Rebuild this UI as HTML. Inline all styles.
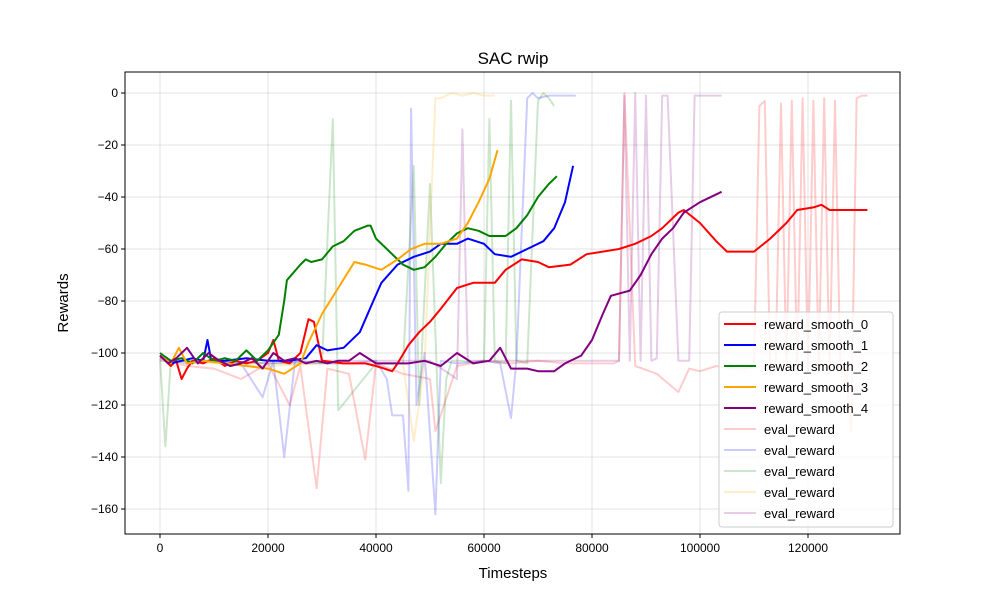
<!DOCTYPE html>
<html><head><meta charset="utf-8"><style>
body{margin:0;background:#fff;font-family:"Liberation Sans",sans-serif}
svg text{font-family:"Liberation Sans",sans-serif}
</style></head><body>
<svg id="chart" width="1000" height="600" xmlns="http://www.w3.org/2000/svg">
<rect x="0" y="0" width="1000" height="600" fill="#fff"/>
<g id="grid"></g>
<g id="evals"></g>
<g id="smooths"></g>
<rect x="125" y="72" width="775" height="462" fill="none" stroke="#000" stroke-width="1"/>
<g id="ticks"></g>
<text x="513" y="64" font-size="17" text-anchor="middle">SAC rwip</text>
<text x="513" y="578" font-size="15" text-anchor="middle">Timesteps</text>
<text x="68" y="303" font-size="15" text-anchor="middle" transform="rotate(-90 68 303)">Rewards</text>
<g id="legend"></g>
</svg>
<script>
const xTicks=[0,20000,40000,60000,80000,100000,120000];
const yTicks=[0,-20,-40,-60,-80,-100,-120,-140,-160];
const s0t=[0,1000,2000,3000,4000,5000,6000,8000,10000,12000,14000,16000,18000,20000,21000,22000,24000,26000,27500,28500,30000,34000,38000,40000,43000,44000,46000,48000,50000,52000,55000,58000,62000,64000,67000,70000,72000,76000,79000,85000,88000,91000,93000,96000,97000,100000,103000,105000,110000,113000,116000,118000,121000,122500,124000,128000,131000];
const s0v=[-101,-103,-105,-103,-110,-106,-103,-104,-102,-105,-103,-104,-103,-100,-95,-103,-104,-100,-87,-88,-103,-104,-104,-105,-107,-104,-97,-92,-88,-83,-75,-73,-73,-68,-64,-65,-67,-66,-62,-60,-58,-55,-52,-46,-45,-50,-57,-61,-61,-56,-50,-45,-44,-43,-45,-45,-45];
const s1t=[0,2000,4000,6000,8000,8800,9500,12000,16000,20000,24000,27000,29000,31000,34000,37000,39500,41000,44000,47000,50000,52000,55000,57000,60000,62000,65000,68000,71000,73000,75000,76500];
const s1v=[-101,-104,-103,-102,-103,-95,-103,-103,-102,-103,-103,-102,-97,-99,-98,-92,-80,-73,-66,-63,-61,-58,-58,-56,-58,-62,-63,-60,-57,-52,-42,-28];
const s2t=[0,2000,4000,6000,8000,10000,12000,14000,16000,18000,20000,22000,23000,23500,26000,27000,28000,30000,32000,34000,36000,38500,39000,40000,42000,45000,47000,49000,51000,53000,55000,57000,59000,61000,64000,66000,68000,70000,72000,73500];
const s2v=[-100,-103,-102,-104,-100,-103,-102,-103,-99,-103,-99,-93,-80,-72,-66,-64,-65,-64,-59,-57,-53,-51,-51,-56,-60,-66,-68,-67,-63,-58,-54,-52,-53,-55,-55,-52,-47,-40,-35,-32];
const s3t=[0,2000,3500,5000,8000,12000,16000,20000,23000,26000,27500,30000,33000,36000,38000,41000,44000,46500,49000,52000,55000,57000,59000,61000,62500];
const s3v=[-101,-104,-98,-104,-103,-104,-105,-106,-108,-104,-96,-85,-75,-65,-66,-68,-64,-60,-58,-58,-56,-50,-42,-33,-22];
const s4t=[0,1500,3000,5000,7000,9000,11000,13000,15000,17000,19000,21000,23000,25000,27000,29000,31000,33000,35000,37000,40000,43000,46000,49000,52000,55000,58000,61000,63000,65000,68000,70000,73000,75000,78000,80000,82000,83500,87000,89000,91000,93000,95000,97000,100000,104000];
const s4v=[-101,-104,-102,-98,-104,-100,-103,-105,-104,-102,-106,-100,-103,-102,-104,-103,-104,-103,-103,-100,-104,-104,-104,-103,-105,-100,-104,-103,-98,-106,-106,-107,-107,-104,-101,-95,-85,-78,-76,-70,-62,-56,-52,-46,-42,-38];
const e0t=[0,5000,10000,15000,20000,24000,26000,29000,31000,35000,38000,40000,45000,50000,51000,55000,60000,65000,70000,75000,80000,84000,85000,86000,88000,92000,96000,98000,100000,103000,106000,109000,110000,111000,112000,113000,114000,115000,116000,117000,118000,119000,120000,121000,122000,123000,124000,125000,126000,127000,128000,129000,130000,131000];
const e0v=[-102,-105,-106,-110,-104,-120,-105,-152,-106,-108,-141,-104,-108,-110,-130,-105,-103,-104,-103,-104,-104,-104,-103,0,-105,-108,-115,-106,-107,-105,-106,-106,-105,-5,-3,-108,-104,-4,-106,-3,-108,-2,-107,-3,-106,-2,-108,-3,-107,-106,-130,-2,-1,-1];
const e1t=[0,5000,10000,15000,19000,21000,23000,25000,30000,35000,40000,42000,43000,45000,46000,46500,47500,49000,51000,52000,55000,60000,63000,65000,66000,68000,69000,70000,72000,74000,77000];
const e1v=[-102,-104,-103,-104,-117,-103,-140,-103,-104,-104,-103,-110,-124,-124,-153,-6,-120,-100,-162,-103,-104,-103,-104,-125,-103,-2,0,-2,-1,-1,-1];
const e2t=[0,1000,2000,10000,20000,30000,32000,33000,40000,45000,47000,48000,50000,52000,53000,54000,56000,58000,60000,61000,62000,64000,65000,66000,68000,70000,71000,72000,73000];
const e2v=[-102,-136,-103,-103,-104,-104,-10,-122,-104,-104,-28,-120,-35,-150,-110,-103,-103,-104,-103,-10,-103,-104,-3,-103,-104,-3,0,-2,-5];
const e3t=[0,10000,20000,30000,40000,45000,47000,49000,51000,52000,54000,56000,58000,60000,62000];
const e3v=[-103,-104,-105,-104,-104,-104,-134,-104,-2,-2,0,-1,0,-1,-1];
const e4t=[0,10000,20000,30000,40000,50000,55000,56000,57000,60000,70000,80000,85000,86000,87000,88000,89000,90000,91000,92000,93000,94000,96000,97000,98000,99000,100000,101000,104000];
const e4v=[-103,-103,-104,-103,-103,-103,-110,-14,-103,-103,-103,-103,-103,-1,-103,0,-103,-1,-103,-102,-1,-1,-103,-103,-103,-1,-1,-1,-1];

const L=125,R=900,T=72,B=534;
const xs=t=>160+t*0.0054;
const ys=v=>93-v*2.6;
const NS="http://www.w3.org/2000/svg";
function mk(tag,attrs,parent){const e=document.createElementNS(NS,tag);for(const k in attrs)e.setAttribute(k,attrs[k]);parent.appendChild(e);return e;}
const grid=document.getElementById('grid'),ticks=document.getElementById('ticks');
xTicks.forEach(t=>{
  const g=mk('line',{x1:xs(t),x2:xs(t),y1:T,y2:B,stroke:'#b0b0b0','stroke-opacity':0.35,'stroke-width':1},grid);
  
  
  const tk=mk('line',{x1:xs(t),x2:xs(t),y1:B,y2:B+4,stroke:'#000'},ticks);
  
  
  const tx=mk('text',{x:xs(t),y:B+18,'font-size':12,'text-anchor':'middle'},ticks);tx.textContent=t;
  
  
});
yTicks.forEach(v=>{
  const g=mk('line',{x1:L,x2:R,y1:ys(v),y2:ys(v),stroke:'#b0b0b0','stroke-opacity':0.35,'stroke-width':1},grid);
  
  
  const tk=mk('line',{x1:L-4,x2:L,y1:ys(v),y2:ys(v),stroke:'#000'},ticks);
  
  
  const tx=mk('text',{x:L-7,y:ys(v)+4,'font-size':12,'text-anchor':'end'},ticks);tx.textContent=(v<0?'\u2212'+(-v):v);
  
  
});
function line(ts,vs,color,op,w,parent,name){
  const d=ts.map((t,i)=>(i?'L':'M')+xs(t).toFixed(1)+','+ys(vs[i]).toFixed(1)).join('');
  const p=mk('path',{d:d,fill:'none',stroke:color,'stroke-opacity':op,'stroke-width':w,'stroke-linejoin':'round'},parent);
  
  
}
const ev=document.getElementById('evals'),sm=document.getElementById('smooths');
line(e0t,e0v,'red',0.2,2,ev,'eval-reward-0');
line(e1t,e1v,'blue',0.2,2,ev,'eval-reward-1');
line(e2t,e2v,'green',0.2,2,ev,'eval-reward-2');
line(e3t,e3v,'orange',0.2,2,ev,'eval-reward-3');
line(e4t,e4v,'purple',0.2,2,ev,'eval-reward-4');
line(s0t,s0v,'red',1,2,sm,'reward-smooth-0');
line(s1t,s1v,'blue',1,2,sm,'reward-smooth-1');
line(s2t,s2v,'green',1,2,sm,'reward-smooth-2');
line(s3t,s3v,'orange',1,2,sm,'reward-smooth-3');
line(s4t,s4v,'purple',1,2,sm,'reward-smooth-4');
const lg=document.getElementById('legend');
const box=mk('rect',{x:719,y:312,width:174,height:215,rx:3,fill:'#fff','fill-opacity':0.8,stroke:'#ccc'},lg);


const labels=['reward_smooth_0','reward_smooth_1','reward_smooth_2','reward_smooth_3','reward_smooth_4','eval_reward','eval_reward','eval_reward','eval_reward','eval_reward'];
const cols=['red','blue','green','orange','purple','red','blue','green','orange','purple'];
labels.forEach((lab,i)=>{
  const y=324+i*21;
  const ln=mk('line',{x1:724,x2:756,y1:y,y2:y,stroke:cols[i],'stroke-opacity':i<5?1:0.2,'stroke-width':2},lg);
  
  
  const tx=mk('text',{x:764,y:y+5,'font-size':13},lg);tx.textContent=lab;
  
  
});
</script>
</body></html>
